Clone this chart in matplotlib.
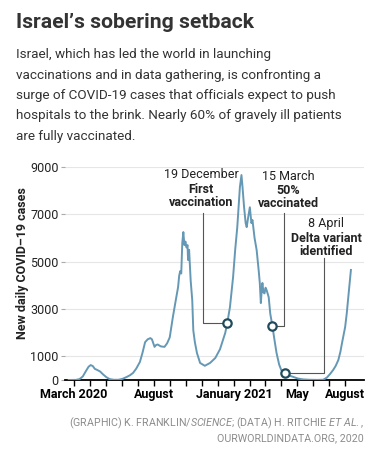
import pandas as pd
import matplotlib
matplotlib.use("Agg")
import matplotlib.pyplot as plt

plt.rcParams['font.family'] = ['Roboto', 'DejaVu Sans']
plt.rcParams['mathtext.fontset'] = 'custom'
plt.rcParams['mathtext.rm'] = 'Roboto'
plt.rcParams['mathtext.it'] = 'Roboto:italic'

# --- data: new daily cases (7-day avg) ---
dates = ["2020-02-20", "2020-03-05", "2020-03-12", "2020-03-18", "2020-03-24", "2020-03-29",
         "2020-04-02", "2020-04-06", "2020-04-10", "2020-04-14", "2020-04-20", "2020-04-26",
         "2020-05-02", "2020-05-08", "2020-05-16", "2020-05-25", "2020-06-02", "2020-06-10",
         "2020-06-16", "2020-06-22", "2020-06-28", "2020-07-05", "2020-07-10", "2020-07-15",
         "2020-07-20", "2020-07-25", "2020-07-28", "2020-08-02", "2020-08-05", "2020-08-08",
         "2020-08-14", "2020-08-21", "2020-08-26", "2020-08-31", "2020-09-06", "2020-09-11",
         "2020-09-16", "2020-09-18", "2020-09-19", "2020-09-20", "2020-09-22", "2020-09-24",
         "2020-09-26", "2020-09-28", "2020-09-30", "2020-10-02", "2020-10-04", "2020-10-05",
         "2020-10-07", "2020-10-10", "2020-10-13", "2020-10-15", "2020-10-18", "2020-10-22",
         "2020-10-28", "2020-11-06", "2020-11-16", "2020-11-26", "2020-12-05", "2020-12-15",
         "2020-12-19", "2020-12-24", "2020-12-30", "2021-01-03", "2021-01-07", "2021-01-12",
         "2021-01-15", "2021-01-17", "2021-01-20", "2021-01-23", "2021-01-25", "2021-01-28",
         "2021-01-31", "2021-02-03", "2021-02-05", "2021-02-09", "2021-02-13", "2021-02-17",
         "2021-02-19", "2021-02-21", "2021-02-23", "2021-02-24", "2021-02-26", "2021-02-28",
         "2021-03-02", "2021-03-04", "2021-03-08", "2021-03-11", "2021-03-15", "2021-03-19",
         "2021-03-23", "2021-03-28", "2021-04-01", "2021-04-08", "2021-04-16", "2021-04-24",
         "2021-05-03", "2021-05-13", "2021-05-25", "2021-06-08", "2021-06-20", "2021-06-27",
         "2021-07-03", "2021-07-09", "2021-07-14", "2021-07-19", "2021-07-23", "2021-07-26",
         "2021-08-01", "2021-08-04", "2021-08-07", "2021-08-12"]
cases = [0, 5, 40, 150, 380, 560,
         630, 590, 470, 430, 360, 230,
         120, 40, 10, 10, 50, 130,
         200, 300, 480, 760, 1150, 1600,
         1720, 1770, 1720, 1400, 1480, 1500,
         1420, 1400, 1550, 1800, 2660, 3300,
         3930, 4400, 4500, 4600, 4500, 5800,
         6250, 5700, 5850, 5600, 5700, 5070,
         5500, 4200, 3380, 2100, 1600, 1140,
         720, 600, 720, 930, 1300, 1990,
         2420, 3080, 4350, 5500, 6460, 8150,
         8660, 8150, 7300, 6630, 6460, 6900,
         7300, 6630, 6760, 6000, 5490, 4600,
         4100, 3250, 3900, 4100, 3700, 3660,
         3900, 3800, 3500, 2800, 2290, 1700,
         1140, 650, 420, 310, 190, 130,
         60, 25, 10, 5, 10, 100,
         250, 420, 600, 845, 1200, 1560,
         2240, 2800, 3500, 4650]

event_dates = ["2020-12-19", "2021-03-15", "2021-04-08"]
event_cases = [2420, 2290, 310]
event_dates_txt = ["19 December", "15 March", "8 April"]
event_labels = ["First\nvaccination", "50%\nvaccinated", "Delta variant\nidentified"]

x_tick_dates = pd.date_range("2020-03-01", "2021-08-01", freq="MS")
x_tick_names = {"2020-03-01": "March 2020", "2020-08-01": "August",
                "2021-01-01": "January 2021", "2021-05-01": "May", "2021-08-01": "August"}
y_ticks = [0, 1000, 3000, 5000, 7000, 9000]

title = "Israel\u2019s sobering setback"
subtitle = ["Israel, which has led the world in launching",
            "vaccinations and in data gathering, is confronting a",
            "surge of COVID-19 cases that officials expect to push",
            "hospitals to the brink. Nearly 60% of gravely ill patients",
            "are fully vaccinated."]
credit = [r"(GRAPHIC) K. FRANKLIN/$\mathit{SCIENCE}$; (DATA) H. RITCHIE $\mathit{ET\ AL.}$,",
          "OURWORLDINDATA.ORG, 2020"]

W, H = 392, 462
LINE = "#6598b5"
DARK = "#1f4b5c"


def fx(px):
    return px / W


def fy(py):
    return 1 - py / H


fig = plt.figure(figsize=(W / 100, H / 100), dpi=100)
ax = fig.add_axes([fx(65), fy(380), (364 - 65) / W, (380 - 167) / H])

x = pd.to_datetime(dates)
ax.plot(x, cases, color=LINE, lw=1.4, zorder=3, solid_joinstyle="round")

# --- event markers + connectors ---
conn_x = ["2020-11-03", "2021-04-07", "2021-06-21"]
conn_top = [7050, 7050, 5150]
for d, v, cx, ct in zip(event_dates, event_cases, conn_x, conn_top):
    d, cx = pd.Timestamp(d), pd.Timestamp(cx)
    ax.plot([cx, cx, d], [ct, v, v], color="#555555", lw=0.8, zorder=2)
    ax.plot([d], [v], "o", ms=6, mfc="white", mec=DARK, mew=1.6, zorder=4)

ax.set_xlim(pd.Timestamp("2020-02-13"), pd.Timestamp("2021-09-06"))
ax.set_ylim(0, 9000)
ax.set_yticks(y_ticks)
ax.set_yticklabels([str(v) for v in y_ticks])
ax.set_xticks(x_tick_dates)
ax.set_xticklabels([x_tick_names.get(d.strftime("%Y-%m-%d"), "") for d in x_tick_dates],
                   fontweight="bold", fontsize=9)
ax.tick_params(axis="x", direction="out", length=4, width=1, color="black", pad=2)
ax.tick_params(axis="y", length=3, width=0.8, color="#aaaaaa", pad=1.5,
               labelsize=9, labelcolor="#222222")
ax.yaxis.grid(True, color="#e6e6e6", lw=0.8)
ax.set_axisbelow(True)
for s in ["top", "right", "left"]:
    ax.spines[s].set_visible(False)
ax.spines["bottom"].set_linewidth(1.3)

# --- annotation texts ---
ann_cx = [201, 288, 326]
ann_cy = [175, 176, 224]
for cx, cy, top, lab in zip(ann_cx, ann_cy, event_dates_txt, event_labels):
    fig.text(fx(cx), fy(cy), top, ha="center", va="center", fontsize=9, color="#222222")
    for i, line in enumerate(lab.split("\n")):
        fig.text(fx(cx), fy(cy + 14 * (i + 1)), line, ha="center", va="center",
                 fontsize=9, fontweight="bold", color="#222222")

fig.text(fx(23), fy(263), "New daily COVID\u201319 cases", rotation=90, ha="center",
         va="center", fontsize=9, fontweight="bold", color="#222222")

# --- title, subtitle, credit ---
fig.text(fx(16), fy(28), title, ha="left", va="baseline", fontsize=15.2,
         fontweight="bold", color="#333333")
for i, line in enumerate(subtitle):
    fig.text(fx(16), fy(58 + 20.5 * i), line, ha="left", va="baseline", fontsize=9.7,
             color="#333333")
fig.text(fx(364), fy(426), credit[0], ha="right", va="baseline", fontsize=7.7, color="#8c8c8c")
fig.text(fx(364), fy(441), credit[1], ha="right", va="baseline", fontsize=7.7, color="#8c8c8c")

fig.savefig("out.png", dpi=100)
